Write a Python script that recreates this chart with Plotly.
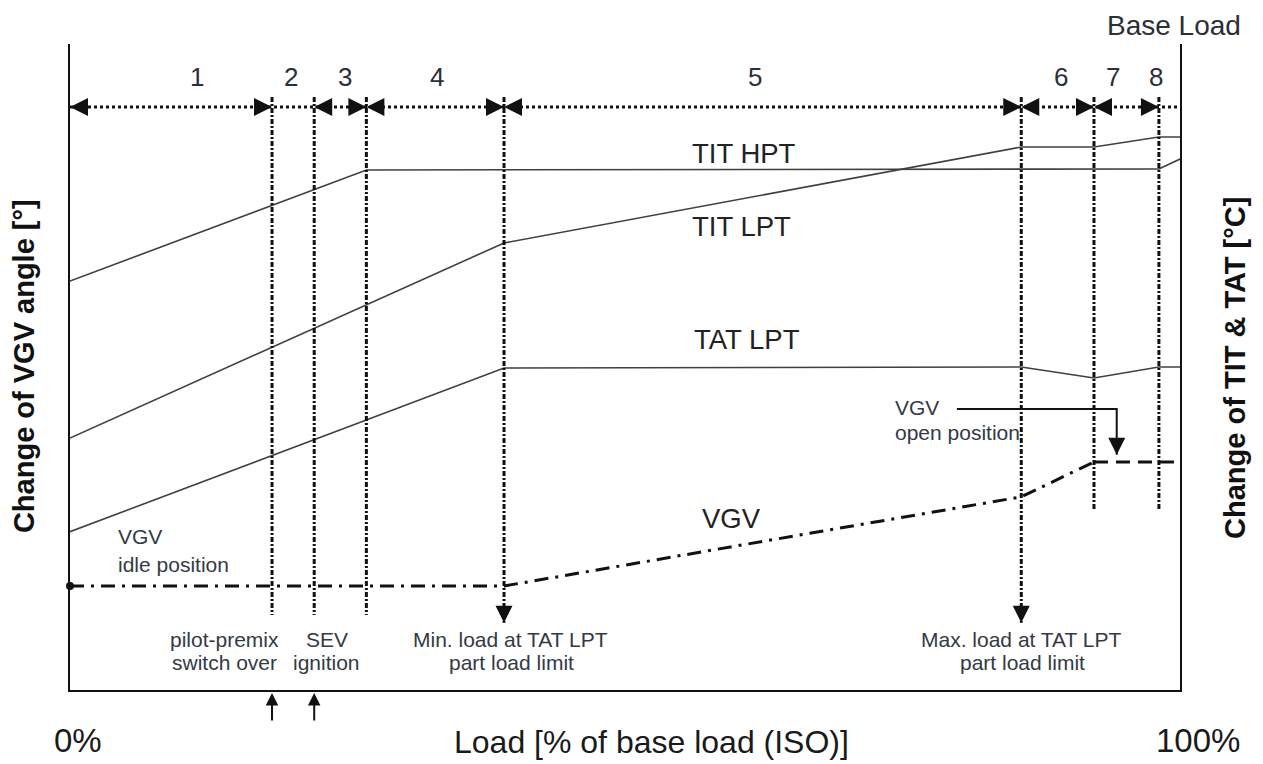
import plotly.graph_objects as go

# ---------------- data (load in % of base load, levels in arbitrary units) ----------------
zone_bounds = [0, 18.2, 22.0, 26.7, 39.1, 85.7, 92.25, 98.1, 100]
zone_names = ["1", "2", "3", "4", "5", "6", "7", "8"]
zones_with_arrows = [0, 2, 3, 4, 5, 6]          # zone indices drawn with double arrows

# lower end of each zone-boundary line (boundaries 1..7)
boundary_bottom = [11.6, 11.6, 11.6, 10.4, 10.4, 27.9, 27.9]
boundary_top = 91.8
arrow_row = 90.25
limit_arrow_bounds = [4, 5]                      # boundaries ending in a downward arrow
event_bounds = [1, 2]                            # pilot-premix switch over, SEV ignition

load_tit_hpt = [0, 26.7, 98.1, 100]
tit_hpt = [63.3, 80.5, 80.65, 82.2]

load_tit_lpt = [0, 39.1, 85.7, 92.25, 98.1, 100]
tit_lpt = [39.0, 69.2, 84.05, 84.05, 85.6, 85.6]

load_tat_lpt = [0, 39.1, 85.7, 92.25, 98.1, 100]
tat_lpt = [24.5, 49.85, 50.0, 48.3, 50.0, 50.0]

load_vgv = [0, 39.1, 85.7, 92.25]
vgv = [16.1, 16.1, 29.9, 35.3]
load_vgv_open = [92.25, 100]
vgv_open = [35.3, 35.3]

# callout "VGV open position"
callout_x = [79.9, 94.3, 94.3]
callout_y = [43.5, 43.5, 36.4]

# ---------------- styling ----------------
FONT = "Liberation Sans, Arial, sans-serif"
INK = "#111111"
CURVE = "#404040"
TXT = "#333a44"

fig = go.Figure()

# curves
for xs, ys in [(load_tit_hpt, tit_hpt), (load_tit_lpt, tit_lpt), (load_tat_lpt, tat_lpt)]:
    fig.add_trace(go.Scatter(x=xs, y=ys, mode="lines",
                             line=dict(color=CURVE, width=1.6), hoverinfo="skip"))

fig.add_trace(go.Scatter(x=load_vgv, y=vgv, mode="lines",
                         line=dict(color=INK, width=3, dash="14px,7px,3px,7px"), hoverinfo="skip"))
fig.add_trace(go.Scatter(x=load_vgv_open, y=vgv_open, mode="lines",
                         line=dict(color=INK, width=3, dash="14px,8px"), hoverinfo="skip"))
fig.add_trace(go.Scatter(x=[load_vgv[0]], y=[vgv[0]], mode="markers",
                         marker=dict(symbol="circle", size=8, color=INK), cliponaxis=False,
                         hoverinfo="skip"))

# zone boundary lines
bx, by = [], []
for i, yb in enumerate(boundary_bottom):
    xb = zone_bounds[i + 1]
    bx += [xb, xb, None]
    by += [boundary_top, yb, None]
fig.add_trace(go.Scatter(x=bx, y=by, mode="lines",
                         line=dict(color=INK, width=3, dash="5px,2px,2px,2px"), hoverinfo="skip"))

# down arrows at TAT LPT part-load limits
fig.add_trace(go.Scatter(x=[zone_bounds[b] for b in limit_arrow_bounds],
                         y=[boundary_bottom[b - 1] for b in limit_arrow_bounds],
                         mode="markers", marker=dict(symbol="arrow-down", size=17, color=INK),
                         hoverinfo="skip"))

# arrow row
fig.add_trace(go.Scatter(x=[zone_bounds[0], zone_bounds[-1]], y=[arrow_row, arrow_row], mode="lines",
                         line=dict(color=INK, width=3, dash="dot"), hoverinfo="skip"))
fig.add_trace(go.Scatter(x=[zone_bounds[i] for i in zones_with_arrows],
                         y=[arrow_row] * len(zones_with_arrows), mode="markers",
                         marker=dict(symbol="arrow-left", size=18, color=INK), hoverinfo="skip",
                         cliponaxis=False))
fig.add_trace(go.Scatter(x=[zone_bounds[i + 1] for i in zones_with_arrows],
                         y=[arrow_row] * len(zones_with_arrows), mode="markers",
                         marker=dict(symbol="arrow-right", size=18, color=INK), hoverinfo="skip",
                         cliponaxis=False))

# VGV open position callout
fig.add_trace(go.Scatter(x=callout_x, y=callout_y, mode="lines",
                         line=dict(color=INK, width=2), hoverinfo="skip"))
fig.add_trace(go.Scatter(x=[callout_x[-1]], y=[callout_y[-1]], mode="markers",
                         marker=dict(symbol="arrow-down", size=17, color=INK), hoverinfo="skip"))

# ---------------- text ----------------
zone_label_x = [11.44, 19.9, 24.8, 33.1, 61.7, 89.3, 94.0, 97.8]
zone_label_y = 94.9

ann = []
def txt(x, y, s, size, color=TXT, xanchor="center", bold=False, angle=0, ref="data"):
    r = ("x", "y") if ref == "data" else ("paper", "paper")
    ann.append(dict(x=x, y=y, xref=r[0], yref=r[1], text=("<b>%s</b>" % s) if bold else s,
                    showarrow=False, xanchor=xanchor, yanchor="middle", textangle=angle,
                    font=dict(family=FONT, size=size, color=color)))

for name, lx in zip(zone_names, zone_label_x):
    txt(lx, zone_label_y, name, 26, color="#2a2f38")

txt(60.7, 83.1, "TIT HPT", 27.5, color="#222")
txt(60.5, 71.8, "TIT LPT", 27.5, color="#222")
txt(61.0, 54.2, "TAT LPT", 27.5, color="#222")
txt(59.6, 26.6, "VGV", 27.5, color="#222")

SMALL = 21
txt(4.14, 23.7, "VGV", SMALL, xanchor="left")
txt(4.14, 19.5, "idle position", SMALL, xanchor="left")
txt(74.1, 43.8, "VGV", SMALL, xanchor="left")
txt(74.1, 39.9, "open position", SMALL, xanchor="left")
row1, row2 = 7.75, 4.2
txt(13.9, row1, "pilot-premix", SMALL)
txt(13.9, row2, "switch over", SMALL)
txt(23.15, row1, "SEV", SMALL)
txt(23.15, row2, "ignition", SMALL)
txt(39.7, row1, "Min. load at TAT LPT", SMALL)
txt(39.8, row2, "part load limit", SMALL)
txt(85.7, row1, "Max. load at TAT LPT", SMALL)
txt(85.8, row2, "part load limit", SMALL)

# texts outside the plotting area (paper coordinates)
txt(0.9946, 1.029, "Base Load", 28, color="#2a2f38", ref="paper")
txt(0.0072, -0.0774, "0%", 33, color="#1a1a1a", ref="paper")
txt(1.0162, -0.0774, "100%", 33, color="#1a1a1a", ref="paper")
txt(0.5243, -0.0805, "Load [% of base load (ISO)]", 32, color="#1a1a1a", ref="paper")
txt(-0.0414, 0.5015, "Change of VGV angle [°]", 29, color="#111", bold=True, angle=-90, ref="paper")
txt(1.0495, 0.4985, "Change of TIT & TAT [°C]", 29, color="#111", bold=True, angle=-90, ref="paper")

# event arrows below the load axis
for b in event_bounds:
    ann.append(dict(x=zone_bounds[b], y=-0.0046, xref="x", yref="paper", text="",
                    showarrow=True, ax=0, ay=29, arrowhead=2, arrowsize=1.25, arrowwidth=2,
                    arrowcolor=INK, standoff=0))

fig.update_layout(
    width=1263, height=764,
    margin=dict(l=70, r=83, t=44, b=74),
    paper_bgcolor="white", plot_bgcolor="white",
    showlegend=False,
    annotations=ann,
    xaxis=dict(range=[0, 100], showgrid=False, zeroline=False, showticklabels=False, ticks="",
               showline=True, linecolor=INK, linewidth=2, mirror=False, fixedrange=True),
    yaxis=dict(range=[0, 100], showgrid=False, zeroline=False, showticklabels=False, ticks="",
               showline=True, linecolor=INK, linewidth=2, mirror=True, fixedrange=True),
)

fig.write_html("out.html", config={"displayModeBar": False})
